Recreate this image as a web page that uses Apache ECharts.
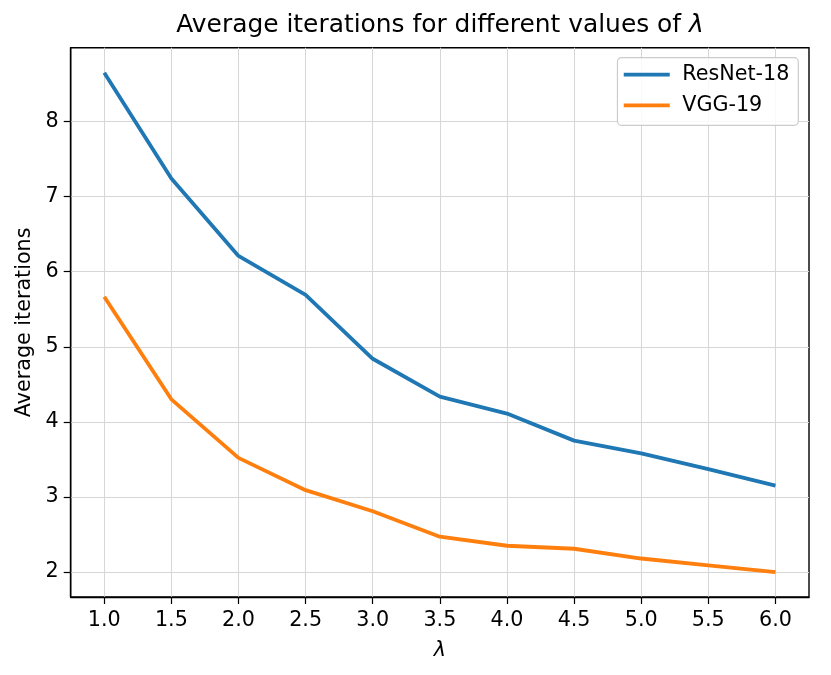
<!DOCTYPE html>
<html>
<head>
<meta charset="utf-8">
<script src="https://cdn.jsdelivr.net/npm/echarts@6/dist/echarts.min.js"></script>
<style>
  html, body { margin: 0; padding: 0; background: #fff; }
  #chart { width: 831px; height: 675px; }
</style>
</head>
<body>
<div id="chart"></div>
<script>
const lambdas = [1.0, 1.5, 2.0, 2.5, 3.0, 3.5, 4.0, 4.5, 5.0, 5.5, 6.0];
const resnet18 = [8.65, 7.24, 6.21, 5.69, 4.84, 4.335, 4.11, 3.75, 3.58, 3.37, 3.15];
const vgg19 = [5.665, 4.30, 3.52, 3.09, 2.81, 2.47, 2.35, 2.31, 2.18, 2.09, 2.00];
const xTicks = [1.0, 1.5, 2.0, 2.5, 3.0, 3.5, 4.0, 4.5, 5.0, 5.5, 6.0];
const yTicks = [2, 3, 4, 5, 6, 7, 8];
const seriesNames = ['ResNet-18', 'VGG-19'];
const colors = ['#1f77b4', '#ff7f0e'];

const FONT = 'DejaVu Sans';
const FS = 20.7;
const chart = echarts.init(document.getElementById('chart'), null, { renderer: 'canvas' });

const toPairs = (xs, ys) => xs.map((x, i) => [x, ys[i]]);

const axisCommon = {
  axisLine: { show: true, onZero: false, lineStyle: { color: '#000', width: 1.4 } },
  axisTick: { show: true, inside: false, length: 7, lineStyle: { color: '#000', width: 1.2 } },
  splitLine: { show: true, lineStyle: { color: '#d6d6d6', width: 1 } },
};

chart.setOption({
  animation: false,
  backgroundColor: '#fff',
  textStyle: { fontFamily: FONT },
  title: {
    text: 'Average iterations for different values of {i|λ}',
    left: 435,
    textAlign: 'center',
    top: 8,
    textStyle: {
      fontFamily: FONT, fontSize: 24.9, fontWeight: 'normal', color: '#000',
      rich: { i: { fontFamily: FONT, fontSize: 24.9, fontStyle: 'italic', color: '#000' } }
    }
  },
  legend: {
    data: seriesNames.map((n, i) => ({ name: n, icon: 'rect', itemStyle: { color: colors[i] } })),
    orient: 'vertical',
    right: 32.7,
    top: 57.7,
    itemWidth: 46,
    itemHeight: 3.8,
    itemGap: 9.6,
    padding: [6.5, 9, 9.5, 6.3],
    backgroundColor: 'rgba(255,255,255,0.85)',
    borderColor: '#cccccc',
    borderWidth: 1.2,
    borderRadius: 4,
    textStyle: { fontFamily: FONT, fontSize: FS, color: '#000', lineHeight: 21, padding: [0, 0, 0, 7.5] }
  },
  grid: { left: 70.7, right: 22, top: 47.7, bottom: 78, containLabel: false, show: true, borderColor: '#000', borderWidth: 1.4, backgroundColor: 'transparent' },
  xAxis: Object.assign({}, axisCommon, {
    type: 'value',
    min: 0.75,
    max: 6.25,
    name: 'λ',
    nameLocation: 'middle',
    nameGap: 43,
    nameTextStyle: { fontFamily: FONT, fontSize: FS, fontStyle: 'italic', color: '#000' },
    axisTick: Object.assign({}, axisCommon.axisTick, { customValues: xTicks }),
    axisLabel: { customValues: xTicks, formatter: v => v.toFixed(1), fontFamily: FONT, fontSize: FS, color: '#000', margin: 13 },
  }),
  yAxis: Object.assign({}, axisCommon, {
    type: 'value',
    min: 1.6675,
    max: 8.9825,
    name: 'Average iterations',
    nameLocation: 'middle',
    nameGap: 36,
    nameTextStyle: { fontFamily: FONT, fontSize: FS, color: '#000' },
    axisTick: Object.assign({}, axisCommon.axisTick, { customValues: yTicks }),
    axisLabel: { customValues: yTicks, formatter: v => String(Math.round(v)), fontFamily: FONT, fontSize: FS, color: '#000', margin: 12 },
  }),
  series: [
    { name: seriesNames[0], type: 'line', data: toPairs(lambdas, resnet18), showSymbol: false, symbol: 'none',
      lineStyle: { color: colors[0], width: 3.8 }, itemStyle: { color: colors[0] }, z: 3 },
    { name: seriesNames[1], type: 'line', data: toPairs(lambdas, vgg19), showSymbol: false, symbol: 'none',
      lineStyle: { color: colors[1], width: 3.8 }, itemStyle: { color: colors[1] }, z: 3 }
  ]
});
</script>
</body>
</html>
